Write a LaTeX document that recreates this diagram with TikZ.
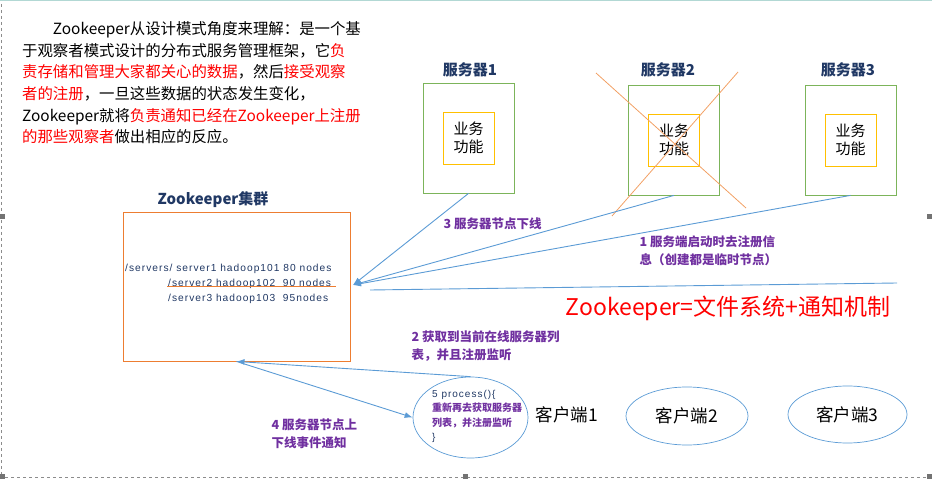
\documentclass[tikz,border=0pt]{standalone}
\usepackage{fontspec}
\setmainfont{Noto Sans CJK SC}
\newfontfamily\arialfont[LetterSpace=10]{Liberation Sans}
\usetikzlibrary{arrows.meta,shapes.geometric}

\begin{document}
\begin{tikzpicture}[x=1pt, y=-1pt,
    srvbox/.style={draw=colorSrv, line width=0.8pt, minimum width=91pt, minimum height=110pt, inner sep=0pt},
    funcbox/.style={draw=colorFct, line width=0.8pt, minimum width=51pt, minimum height=52pt, inner sep=0pt, align=center, font=\fontsize{15}{18}\selectfont},
    srvtitle/.style={text=colorNavy, font=\bfseries\fontsize{15}{18}\selectfont},
    steplbl/.style={text=colorStep, anchor=west, align=left, font=\bfseries\fontsize{12.5}{18}\selectfont},
    zkline/.style={text=colorNavy, anchor=west, inner sep=0pt, font=\arialfont\fontsize{10.2}{12}\selectfont},
    flow/.style={draw=colorLine, line width=0.9pt, -{Latex[length=8pt,width=6pt]}},
    client/.style={ellipse, draw=colorLine, line width=0.7pt, inner sep=0pt, font=\fontsize{17.5}{20}\selectfont},
    handle/.style={fill=black!55}]
    % Couleurs
    \definecolor{colorNavy}{RGB}{32,56,100}
    \definecolor{colorStep}{RGB}{112,48,160}
    \definecolor{colorLine}{RGB}{91,155,213}
    \definecolor{colorSrv}{RGB}{124,180,90}
    \definecolor{colorFct}{RGB}{255,192,0}
    \definecolor{colorOrange}{RGB}{237,125,49}
    \definecolor{colorCross}{RGB}{242,160,100}
    \definecolor{colorRed}{RGB}{255,0,0}
    \definecolor{colorFrame}{RGB}{178,216,212}

    \useasboundingbox (0,0) rectangle (932,481);

    % Cadre de la diapositive
    \draw[colorFrame, line width=1.5pt] (0,0.75) -- (932,0.75);
    \draw[black!45, line width=0.8pt, dash pattern=on 3pt off 3pt] (1.5,4) -- (1.5,474);
    \draw[black!45, line width=0.8pt, dash pattern=on 3pt off 3pt] (5,477.5) -- (926,477.5);
    \fill[handle] (0,214) rectangle (5,219);
    \fill[handle] (927,214) rectangle (932,219);
    \fill[handle] (0,474) rectangle (5,479);
    \fill[handle] (463,474) rectangle (468,479);
    \fill[handle] (927,474) rectangle (932,479);

    % Texte d'introduction
    \node[anchor=north west, align=left, inner sep=0pt, font=\fontsize{15.4}{21.6}\selectfont] (intro) at (22,21.5) {\hspace*{2em}Zookeeper从设计模式角度来理解：是一个基\\
    于观察者模式设计的分布式服务管理框架，它\textcolor{colorRed}{负}\\
    \textcolor{colorRed}{责存储和管理大家都关心的数据}，然后\textcolor{colorRed}{接受观察}\\
    \textcolor{colorRed}{者的注册}，一旦这些数据的状态发生变化，\\
    Zookeeper就将\textcolor{colorRed}{负责通知已经在Zookeeper上注册}\\
    \textcolor{colorRed}{的那些观察者}做出相应的反应。};

    % Serveurs
    \node[srvtitle] (t1) at (470,70) {服务器1};
    \node[srvtitle] (t2) at (668,70) {服务器2};
    \node[srvtitle] (t3) at (848,70) {服务器3};
    \node[srvbox] (s1) at (468.5,138) {};
    \node[srvbox] (s2) at (674,140) {};
    \node[srvbox] (s3) at (850.5,140) {};
    \node[funcbox] (f1) at (468.5,138) {业务\\功能};
    \node[funcbox] (f2) at (674,140) {业务\\功能};
    \node[funcbox] (f3) at (850.5,140) {业务\\功能};

    % Serveur 2 barré
    \draw[colorCross, line width=0.8pt] (596,73) -- (746,208);
    \draw[colorCross, line width=0.8pt] (738,72) -- (612,216);

    % Cluster Zookeeper
    \node[srvtitle] (zktitle) at (213,200) {Zookeeper集群};
    \node[draw=colorOrange, line width=0.9pt, minimum width=227pt, minimum height=149pt, inner sep=0pt] (zk) at (236.5,286.5) {};
    \node[zkline] (p1) at (125,269) {/servers/ server1 hadoop101 80 nodes};
    \node[zkline] (p2) at (168,284) {/server2 hadoop102\ \ 90 nodes};
    \node[zkline] (p3) at (168,299) {/server3 hadoop103\ \ 95nodes};
    \draw[colorOrange, line width=0.9pt] (167,286) -- (336,286);

    % Enregistrement et fin de session
    \coordinate (zkin) at (353,285);
    \draw[flow] (s1.south) -- (zkin);
    \draw[flow] (s2.south) -- (zkin);
    \draw[flow] (s3.south) -- (zkin);
    \coordinate (lnA) at (370,290);
    \coordinate (lnB) at (897,283);
    \draw[colorLine, line width=0.9pt] (lnA) -- (lnB);
    \node[steplbl] (lbl3) at (440,224) {3 服务器节点下线};
    \node[steplbl] (lbl1) at (636,251) {1 服务端启动时去注册信\\息（创建都是临时节点）};

    % Devise
    \node[text=colorRed, font=\fontsize{23}{27}\selectfont] (motto) at (728,308) {Zookeeper=文件系统+通知机制};

    % Clients
    \node[client, minimum width=115pt, minimum height=81pt] (c1) at (470.5,417.5) {};
    \node[anchor=west, align=left, inner sep=0pt, font=\fontsize{10}{14.5}\selectfont] (c1txt) at (432,416.5) {\textcolor{colorNavy}{\arialfont 5 process()\{}\\
    \textcolor{colorStep}{\bfseries 重新再去获取服务器}\\
    \textcolor{colorStep}{\bfseries 列表，并注册监听}\\
    \textcolor{colorNavy}{\arialfont\}}};
    \node[font=\fontsize{17.5}{20}\selectfont] (c1lbl) at (567,415) {客户端1};
    \node[client, minimum width=122pt, minimum height=58pt] (c2) at (687,416) {客户端2};
    \node[client, minimum width=119pt, minimum height=57pt] (c3) at (847.5,414.5) {客户端3};

    % Notifications
    \draw[flow] (c1.north) -- (zk.south);
    \draw[flow] (zk.south) -- (c1.west);
    \node[steplbl] (lbl2) at (408,346) {2 获取到当前在线服务器列\\表，并且注册监听};
    \node[steplbl] (lbl4) at (268,434) {4 服务器节点上\\下线事件通知};
\end{tikzpicture}
\end{document}
